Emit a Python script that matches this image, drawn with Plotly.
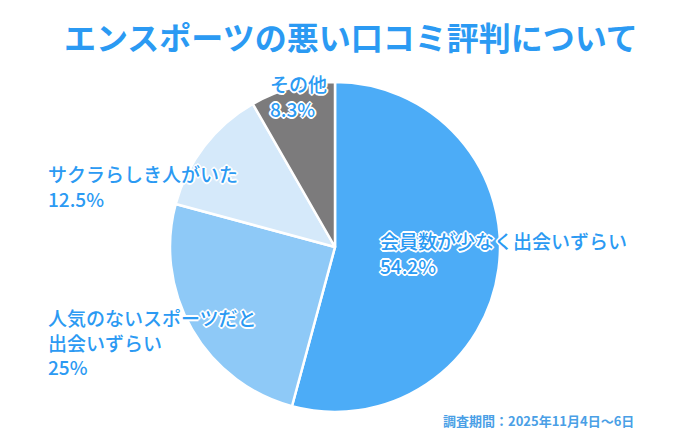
import plotly.graph_objects as go

labels = ["会員数が少なく出会いずらい", "人気のないスポーツだと出会いずらい", "サクラらしき人がいた", "その他"]
values = [54.2, 25, 12.5, 8.3]
colors = ["#4cacf7", "#8ec9f7", "#d5e9fa", "#7c7b7c"]

W, H = 690, 430
cx, cy, r = 327, 239, 165
fig = go.Figure(go.Pie(
    labels=labels, values=values, sort=False, direction="clockwise", rotation=0,
    marker=dict(colors=colors, line=dict(color="white", width=2.5)),
    textinfo="none", hoverinfo="label+percent", showlegend=False,
    domain=dict(x=[(cx-r)/W, (cx+r)/W], y=[(H-cy-r)/H, (H-cy+r)/H]),
))

blue = "#2b9af3"
sh = "1px 1px 0 #fff, -1px -1px 0 #fff, 1px -1px 0 #fff, -1px 1px 0 #fff, 2px 0 0 #fff, -2px 0 0 #fff, 0 2px 0 #fff, 0 -2px 0 #fff"
def ann(x, y, text, size=19, bold=False, anchor="left"):
    fig.add_annotation(x=x/W, y=1-y/H, xref="paper", yref="paper", text=text, showarrow=False,
                       xanchor=anchor, yanchor="middle", align="left",
                       font=dict(size=size, color=blue, family="Noto Sans CJK JP", weight="bold" if bold else 500, shadow=sh))

ann(343, 28, "エンスポーツの悪い口コミ評判について", size=32, bold=True, anchor="center")
ann(370, 245, labels[0] + "<br>" + f"{values[0]}%")
ann(38, 334, "人気のないスポーツだと<br>出会いずらい<br>" + f"{values[1]:g}%")
ann(38, 178, labels[2] + "<br>" + f"{values[2]}%")
ann(260, 88, labels[3] + "<br>" + f"{values[3]}%")
fig.add_annotation(x=628/W, y=1-412/H, xref="paper", yref="paper", text="調査期間：2025年11月4日～6日",
                   showarrow=False, xanchor="right", yanchor="middle",
                   font=dict(size=13, color="#4a9fe6", family="Noto Sans CJK JP", weight="bold"))

fig.update_layout(width=W, height=H, margin=dict(l=0, r=0, t=0, b=0),
                  paper_bgcolor="white", plot_bgcolor="white")
fig.write_html("out.html")
